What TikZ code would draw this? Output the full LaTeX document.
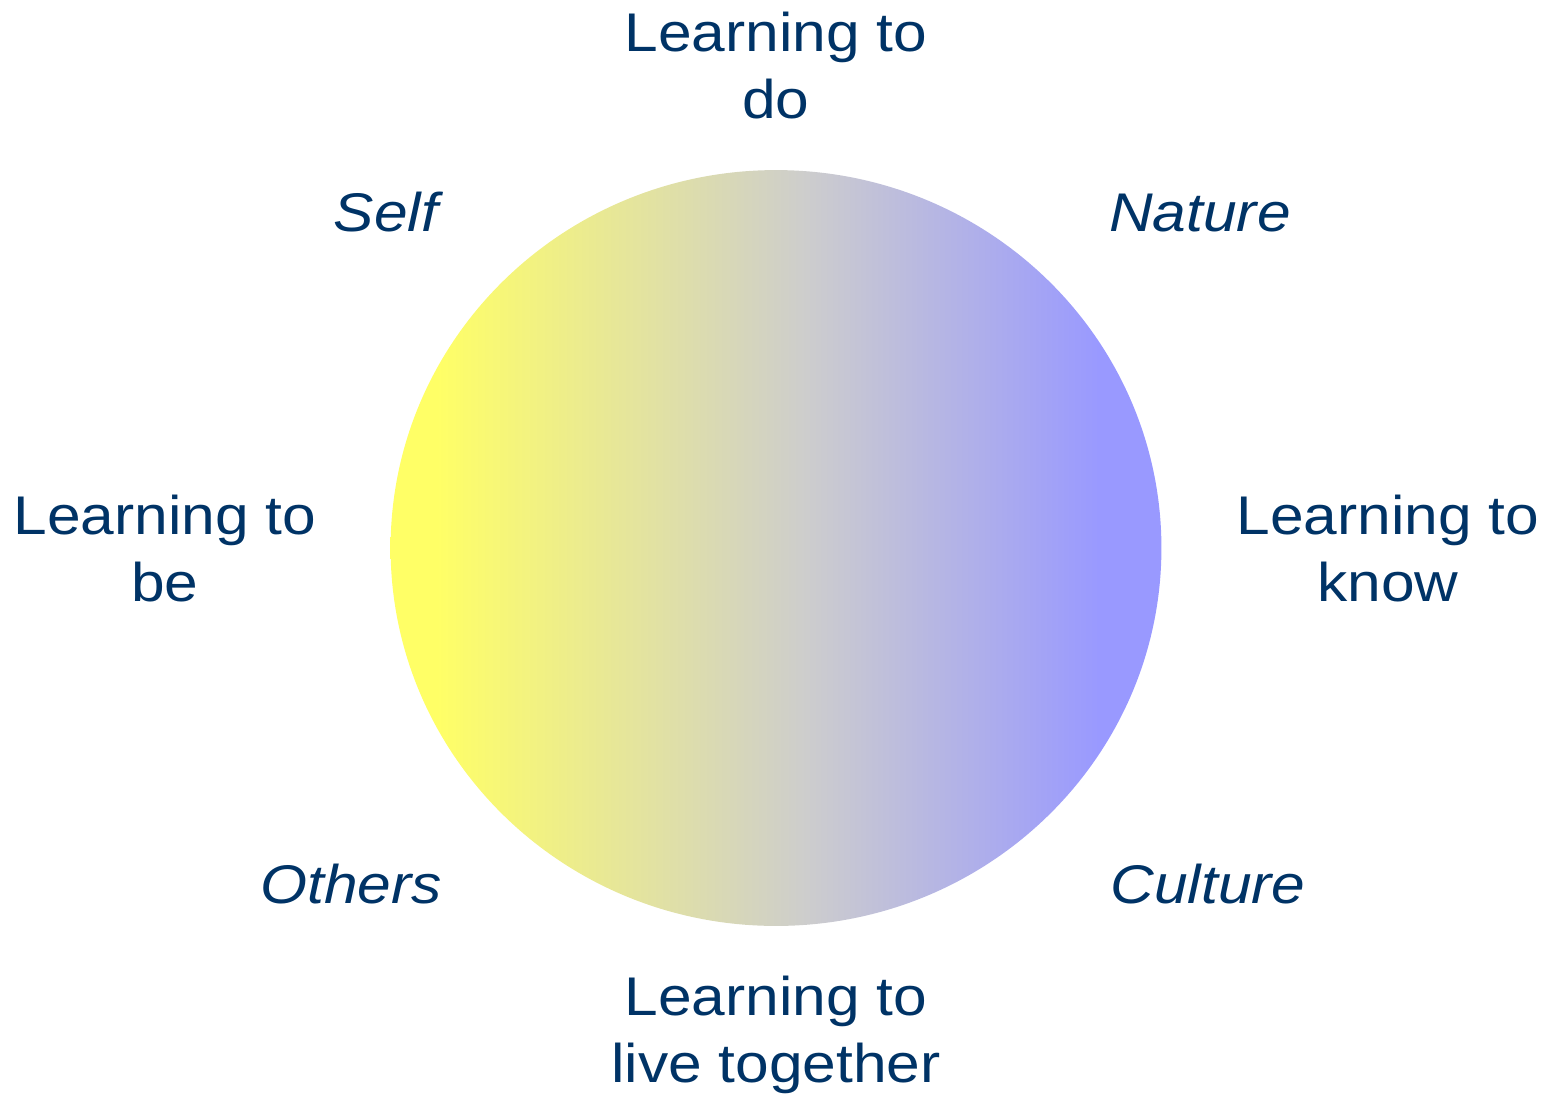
\documentclass[tikz,border=0pt]{standalone}
\usepackage{fontspec}
\setmainfont{Liberation Sans}[FakeStretch=1.11]
\usetikzlibrary{shapes.geometric}
\definecolor{labelblue}{RGB}{0,51,102}
\definecolor{sunyellow}{RGB}{255,255,102}
\definecolor{midgrey}{RGB}{205,205,205}
\definecolor{skyviolet}{RGB}{153,153,255}
\pgfdeclarehorizontalshading{hubfade}{100bp}{color(0bp)=(sunyellow); color(28bp)=(sunyellow); color(52bp)=(midgrey); color(71bp)=(skyviolet); color(100bp)=(skyviolet)}

\begin{document}
\begin{tikzpicture}[
    x=0.02cm, y=-0.02cm,
    every node/.style={font=\fontsize{31}{38}\selectfont, text=labelblue},
    pillar/.style={align=center, anchor=base},
    realm/.style={font=\fontsize{31}{38}\selectfont\itshape, anchor=base},
    hub/.style={ellipse, draw=none, minimum width=15.42cm, minimum height=15.12cm, inner sep=0pt, shading=hubfade}
]
    \useasboundingbox (0,0) rectangle (1554,1093);

    % Circle
    \node[hub] (hub) at (776,548) {};

    % Pillars of learning
    \node[pillar] (todo) at (776,118) {Learning to\\do};
    \node[pillar] (tobe) at (165,601) {Learning to\\be};
    \node[pillar] (toknow) at (1388,601) {Learning to\\know};
    \node[pillar] (tolive) at (776,1082) {Learning to\\live together};

    % Realms
    \node[realm] (self) at (386,231) {Self};
    \node[realm] (nature) at (1200,231) {Nature};
    \node[realm] (others) at (351,903) {Others};
    \node[realm] (culture) at (1208,903) {Culture};
\end{tikzpicture}
\end{document}
